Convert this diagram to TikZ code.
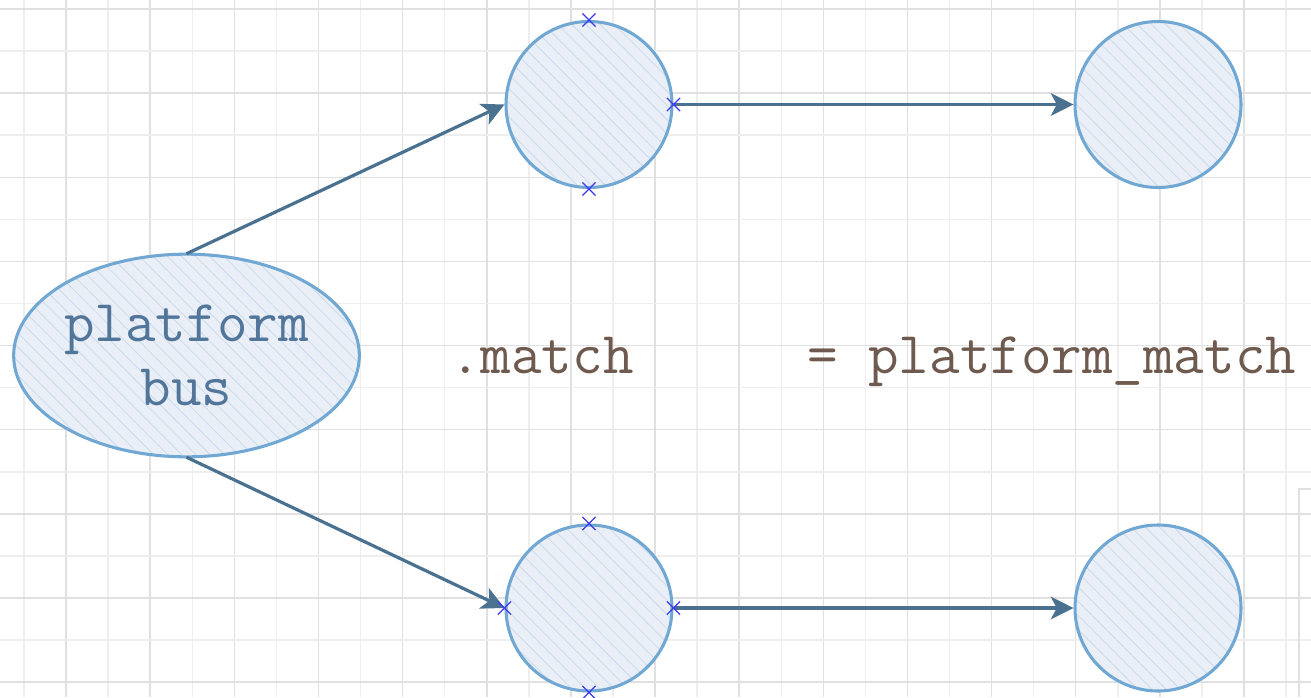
\documentclass[tikz,border=0pt]{standalone}
\usepackage{fontspec}
\usetikzlibrary{arrows.meta,shapes.geometric,shapes.misc,patterns.meta}
\newcommand{\Px}{0.75pt}
\newcommand{\Cell}{42.07}
\newcommand{\Rim}{2.3pt}
\definecolor{gridlight}{HTML}{EEEEEE}
\definecolor{griddark}{HTML}{E0E0E0}
\definecolor{bubble}{HTML}{EAEFF7}
\definecolor{hatch}{HTML}{C9DBEC}
\definecolor{rim}{HTML}{70A8D3}
\definecolor{shaft}{HTML}{4A7190}
\definecolor{markblue}{HTML}{3A3AF0}
\definecolor{bustext}{HTML}{52769A}
\definecolor{codetext}{HTML}{6E5A4E}

\tikzset{
  bubblebase/.style={draw=rim, line width=\Rim, inner sep=0pt,
    preaction={fill=bubble},
    pattern={Lines[angle=-45,distance=7.5pt,line width=0.6pt]}, pattern color=hatch},
  devnode/.style={bubblebase, circle, minimum size=124.5pt},
  busnode/.style={bubblebase, ellipse, minimum width=257pt, minimum height=152pt,
    align=center, text=bustext, font=\ttfamily\fontsize{44.5}{48}\selectfont},
  link/.style={draw=shaft, line width=2.4pt, -{Stealth[length=17pt,width=17pt,inset=4.5pt]}},
  anchormark/.style={cross out, draw=markblue, line width=0.9pt, minimum size=9pt, inner sep=0pt},
  codeword/.style={anchor=base west, inner sep=0pt, text=codetext, font=\ttfamily\fontsize{44.5}{48}\selectfont}
}

\begin{document}
\begin{tikzpicture}[x=\Px,y=-\Px, line join=round]

  \useasboundingbox (0,0) rectangle (1311,697);

  % ---- grid paper ---------------------------------------------------------
  \foreach \k in {0,...,30} {
    \pgfmathsetmacro\gx{24+\k*\Cell}
    \ifodd\k \def\gc{griddark}\else \def\gc{gridlight}\fi
    \draw[\gc,line width=1.1pt] (\gx,0) -- (\gx,697);
  }
  \foreach \k in {0,...,16} {
    \pgfmathsetmacro\gy{9+\k*\Cell}
    \ifodd\k \def\gc{gridlight}\else \def\gc{griddark}\fi
    \draw[\gc,line width=1.1pt] (0,\gy) -- (1311,\gy);
  }
  % edge of a neighbouring frame, just peeking in
  \draw[griddark,line width=1.1pt] (1299,697) -- (1299,489) -- (1311,489);

  % ---- the bus and its devices -------------------------------------------
  \node[busnode] (bus) at (186.5,355.5) {platform\\bus};
  \node[devnode] (devA) at (589,104.5) {};
  \node[devnode] (drvA) at (1158,104.5) {};
  \node[devnode] (devB) at (589,608) {};
  \node[devnode] (drvB) at (1158,608) {};

  % ---- links --------------------------------------------------------------
  \draw[link] (bus.north) -- (devA.west);
  \draw[link] (bus.south) -- (devB.west);
  \draw[link] (devA.east) -- (drvA.west);
  \draw[link] (devB.east) -- (drvB.west);

  % connection points still free on the selected shapes
  \node[anchormark] (mkAn) at (devA.north) {};
  \node[anchormark] (mkAe) at (devA.east) {};
  \node[anchormark] (mkAs) at (devA.south) {};
  \node[anchormark] (mkBn) at (devB.north) {};
  \node[anchormark] (mkBw) at (devB.west) {};
  \node[anchormark] (mkBe) at (devB.east) {};
  \node[anchormark] (mkBs) at (devB.south) {};

  % ---- the match hook -----------------------------------------------------
  \node[codeword] (hook) at (450,373) {.match};
  \node[codeword] (hookfn) at (807,373) {= platform\_match};

\end{tikzpicture}
\end{document}
